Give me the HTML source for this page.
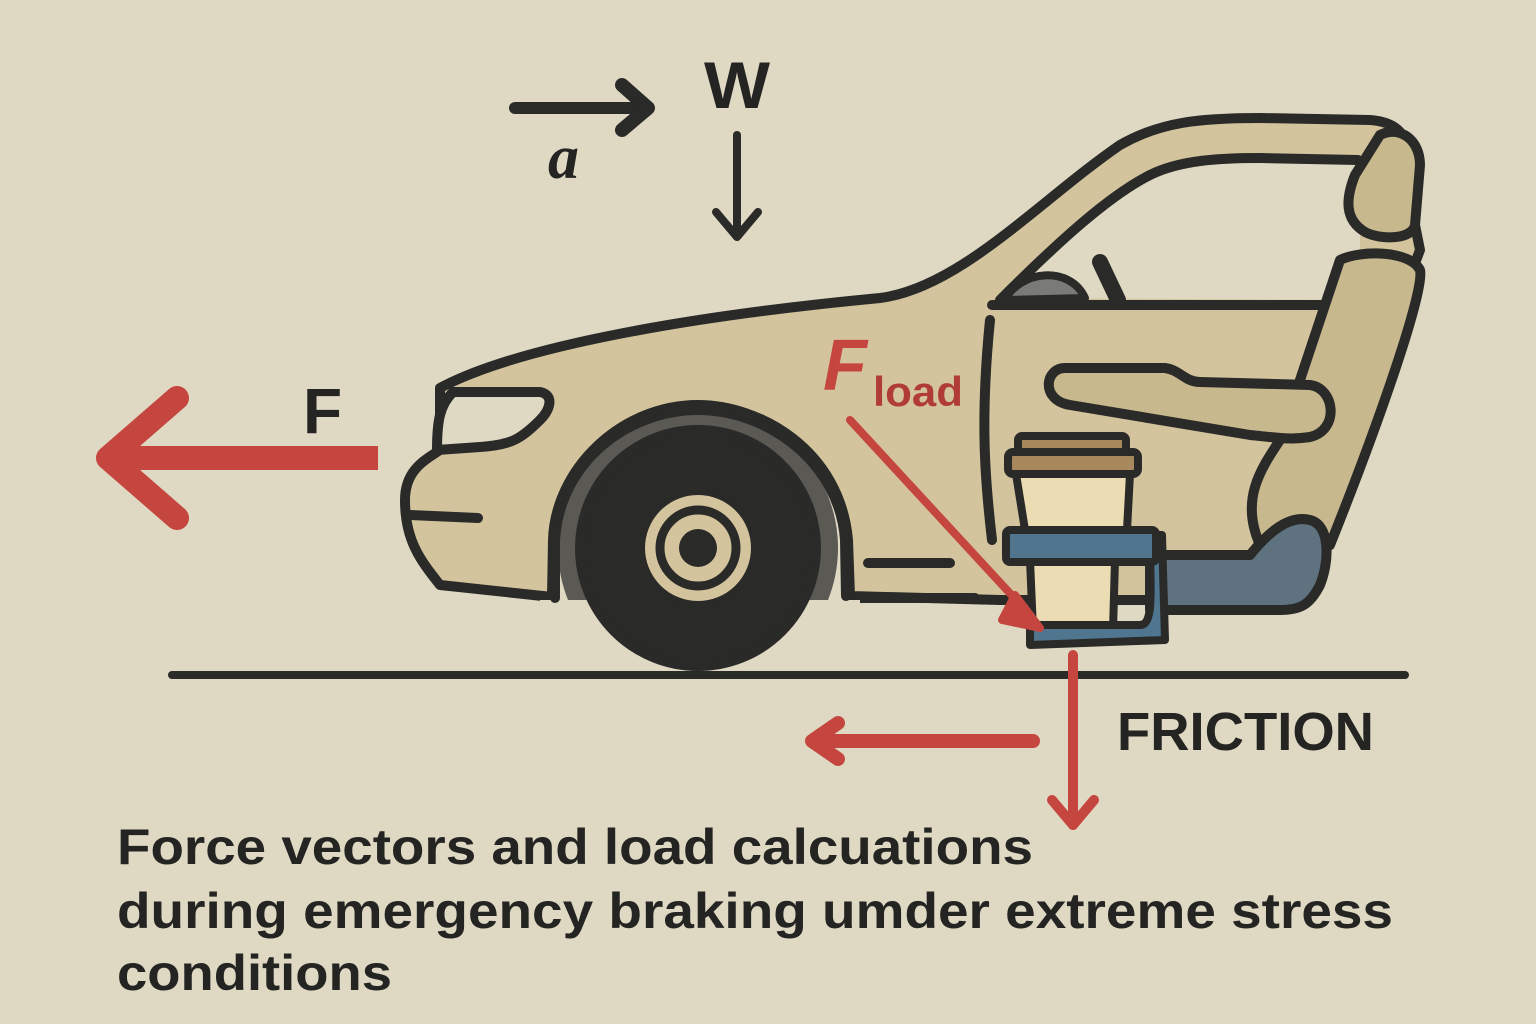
<!DOCTYPE html>
<html><head><meta charset="utf-8"><style>
html,body{margin:0;padding:0;background:#dfd9c4;}
svg{display:block}
</style></head><body>
<svg width="1536" height="1024" viewBox="0 0 1536 1024" xmlns="http://www.w3.org/2000/svg">
<rect width="1536" height="1024" fill="#dfd9c4"/>
<g stroke="#2a2a28" stroke-width="10" stroke-linejoin="round" stroke-linecap="round">
<!-- car body -->
<path d="M440,388 C520,345 700,315 880,298 C960,288 1040,200 1120,145 C1160,122 1200,118 1260,118 L1370,120 C1400,122 1410,140 1400,150 L1420,250 L1300,570 L1160,600 L1000,600 L850,596 L848,540 C840,450 760,405 698,405 C620,405 555,470 553,540 L552,597 L440,585 C420,560 405,540 405,500 C405,470 425,460 440,450 Z" fill="#d3c49e"/>
<!-- window opening -->
<path d="M1000,298 L1120,195 C1160,165 1200,160 1260,160 L1360,160 L1360,300 Z" fill="#dfd9c4" stroke="none"/>
<path d="M1000,300 C1060,240 1110,195 1150,175 C1180,160 1220,158 1260,158 L1358,160" fill="none"/>
<!-- steering wheel -->
<path d="M1005,300 C1020,270 1070,265 1085,298 Z" fill="#7a7a78" stroke-width="8"/>
<path d="M1100,262 L1118,300" stroke-width="16"/>
<!-- door -->
<path d="M990,320 C980,420 985,480 992,540" fill="none"/>
<path d="M992,305 L1340,305" fill="none"/>
<!-- headlight -->
<path d="M453,392 L540,392 C555,395 550,410 540,420 C520,440 510,445 480,447 L437,450 C437,420 440,405 453,392 Z" fill="#dfd9c4"/>
<path d="M410,515 L478,518" fill="none"/>
<path d="M868,563 L950,563" fill="none"/>
<path d="M850,598 L975,598" fill="none"/>
<!-- wheel arch -->
<circle cx="698" cy="548" r="140" fill="#5b5954" stroke="none"/>
<rect x="540" y="600" width="320" height="100" fill="#dfd9c4" stroke="none"/>
<path d="M555,598 L555,540 C560,460 630,410 698,410 C770,410 840,465 845,540 L846,596" fill="none"/>
<!-- wheel -->
<circle cx="698" cy="548" r="118" fill="#2a2a28"/>
<circle cx="698" cy="548" r="56" fill="#d3c49e" stroke-width="6"/>
<circle cx="698" cy="548" r="38" fill="#d3c49e" stroke-width="9"/>
<circle cx="698" cy="548" r="19" fill="#2a2a28" stroke="none"/>
<!-- seat back -->
<path d="M1340,260 C1360,250 1410,250 1420,270 C1425,290 1380,420 1330,545 L1260,545 C1240,500 1260,470 1280,440 Z" fill="#c8b88e"/>
<!-- headrest -->
<path d="M1380,135 C1400,125 1420,140 1420,165 L1415,225 C1412,240 1380,240 1365,232 C1345,220 1345,200 1355,175 Z" fill="#c8b88e"/>
<!-- seat cushion -->
<path d="M1150,585 L1150,555 L1250,555 C1270,530 1290,515 1310,520 C1330,525 1330,560 1320,585 C1310,605 1300,610 1280,610 L1150,610 Z" fill="#5f7280"/>
<path d="M1140,560 L1140,555 L1250,555" fill="none"/>
<!-- armrest -->
<path d="M1065,368 L1165,368 C1180,370 1185,382 1200,382 L1310,385 C1335,388 1340,430 1310,437 C1290,440 1280,438 1250,435 L1070,405 C1040,400 1045,368 1065,368 Z" fill="#c8b88e"/>
<!-- cup -->
<rect x="1018" y="436" width="108" height="20" rx="4" fill="#a8895e" stroke-width="8"/>
<rect x="1008" y="452" width="130" height="22" rx="5" fill="#a8895e" stroke-width="8"/>
<path d="M1016,474 L1130,474 L1127,530 L1025,530 Z" fill="#ecdcb4" stroke-width="8"/>
<path d="M1030,560 L1115,560 L1113,630 L1033,630 Z" fill="#ecdcb4" stroke-width="8"/>
<path d="M1120,535 L1162,535 L1165,640 L1030,645 L1030,625 L1140,625 C1150,625 1152,610 1150,560 L1120,560 Z" fill="#4f758f" stroke-width="8"/>
<rect x="1006" y="530" width="150" height="32" rx="4" fill="#4f758f" stroke-width="8"/>
</g>
<!-- ground -->
<line x1="172" y1="675" x2="1405" y2="675" stroke="#2a2a28" stroke-width="8" stroke-linecap="round"/>
<!-- red arrows -->
<g stroke="#c5463f" fill="none" stroke-linecap="round" stroke-linejoin="round">
<line x1="378" y1="458" x2="110" y2="458" stroke-width="24" stroke-linecap="butt"/>
<path d="M177,398 L108,458 L177,518" stroke-width="24"/>
<line x1="850" y1="420" x2="1030" y2="615" stroke-width="8"/>
<path d="M1015,595 L1040,628 L1002,620 Z" fill="#c5463f" stroke-width="8"/>
<line x1="1033" y1="741" x2="815" y2="741" stroke-width="14"/>
<path d="M838,723 L812,741 L838,759" stroke-width="14"/>
<line x1="1073" y1="655" x2="1073" y2="825" stroke-width="10"/>
<path d="M1052,800 L1073,825 L1094,800" stroke-width="10"/>
</g>
<!-- black arrows -->
<g stroke="#2a2a28" fill="none" stroke-linecap="round" stroke-linejoin="round">
<line x1="515" y1="108" x2="645" y2="108" stroke-width="12"/>
<path d="M622,85 L648,108 L622,130" stroke-width="14"/>
<line x1="737" y1="135" x2="737" y2="235" stroke-width="8"/>
<path d="M716,212 L737,237 L758,212" stroke-width="8"/>
</g>
<!-- labels -->
<g font-family="'Liberation Sans', sans-serif" font-weight="bold" fill="#242422">
<text x="704" y="108" font-size="66" textLength="66" lengthAdjust="spacingAndGlyphs">W</text>
<text x="548" y="178" font-size="62" font-family="'Liberation Serif', serif" font-style="italic" font-weight="bold">a</text>
<text x="303" y="433" font-size="64">F</text>
<text x="1117" y="750" font-size="54" textLength="257" lengthAdjust="spacingAndGlyphs">FRICTION</text>
<text x="823" y="390" font-size="72" font-style="italic" fill="#c5463f">F</text>
<text x="873" y="406" font-size="42" fill="#b13c36" textLength="90" lengthAdjust="spacingAndGlyphs">load</text>
<text x="117" y="864" font-size="50" textLength="916" lengthAdjust="spacingAndGlyphs">Force vectors and load calcuations</text>
<text x="117" y="928" font-size="50" textLength="1276" lengthAdjust="spacingAndGlyphs">during emergency braking umder extreme stress</text>
<text x="117" y="990" font-size="50" textLength="275" lengthAdjust="spacingAndGlyphs">conditions</text>
</g>
</svg>
</body></html>
